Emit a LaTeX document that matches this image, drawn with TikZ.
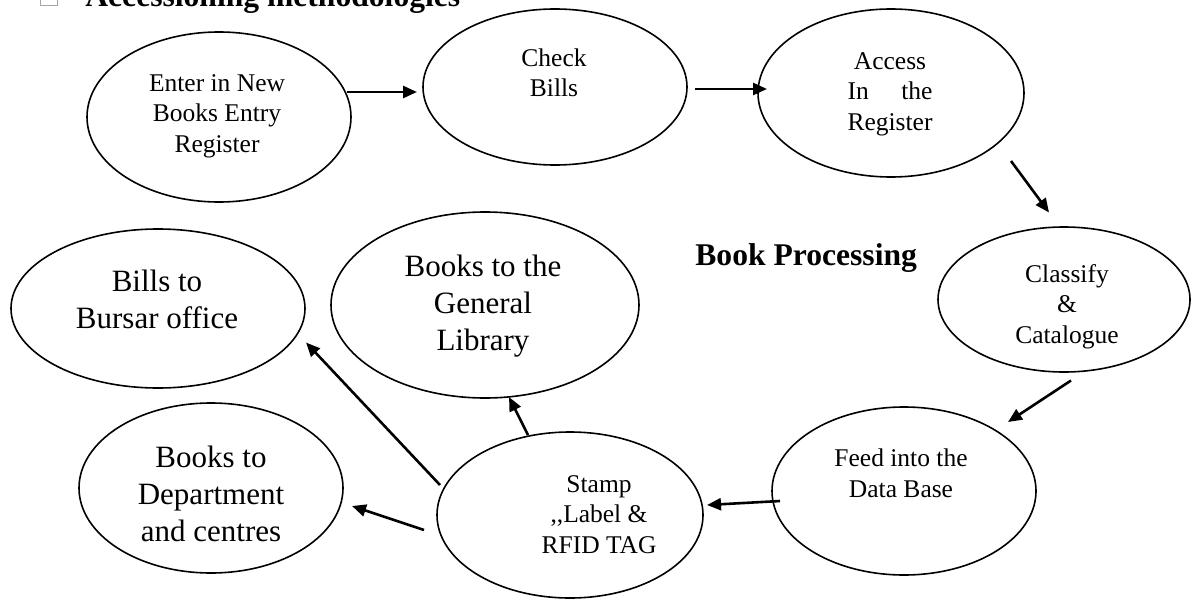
\documentclass[tikz,border=0pt]{standalone}
\usepackage{fontspec}
\setmainfont{Liberation Serif}
\usetikzlibrary{shapes.geometric,arrows.meta,calc}
\begin{document}
\begin{tikzpicture}[x=0.5pt,y=-0.5pt,
  ell/.style={draw,ellipse,line width=0.8pt,inner sep=0pt},
  small/.style={align=center,anchor=base,inner sep=0pt,font=\fontsize{12.75}{15.25}\selectfont},
  big/.style={align=center,anchor=base,inner sep=0pt,font=\fontsize{15.5}{18.4}\selectfont},
  heading/.style={anchor=base west,inner sep=0pt,font=\fontsize{15.8}{19}\selectfont\bfseries},
  arr/.style={line width=1.3pt,-{Triangle[length=7pt,width=6pt]}}]
\useasboundingbox (0,0) rectangle (1192,599);
\clip (0,0) rectangle (1192,599);

% title (cut by the top edge, as in the reference)
\draw[gray!70,line width=0.4pt] (40,-10) rectangle (57,5);
\node[heading] (title) at (85,7) {Accessioning methodologies};
\node[heading] (bp) at (695,265) {Book Processing};

% ellipses
\node[ell,minimum width=132pt,minimum height=85pt] (n1) at (219,117) {};
\node[ell,minimum width=132pt,minimum height=78pt] (n2) at (555,87) {};
\node[ell,minimum width=133pt,minimum height=84pt] (n3) at (891,93) {};
\node[ell,minimum width=126pt,minimum height=72.5pt] (n4) at (1064,299.5) {};
\node[ell,minimum width=132pt,minimum height=84pt] (n5) at (904,491) {};
\node[ell,minimum width=133pt,minimum height=83pt] (n6) at (570,515) {};
\node[ell,minimum width=154pt,minimum height=93pt] (n7) at (485,305) {};
\node[ell,minimum width=147pt,minimum height=79.5pt] (n8) at (158,308.5) {};
\node[ell,minimum width=132pt,minimum height=85pt] (n9) at (211,488) {};

% texts (positioned at the baseline of their last line)
\node[small] (t1) at (217,152) {Enter in New\\Books Entry\\Register};
\node[small] (t2) at (554,97) {Check\\Bills};
\node[small] (t3) at (890,130) {Access\\\makebox[3.33em][l]{In\hfill the}\\Register};
\node[small] (t4) at (1067,343) {Classify\\\&\\Catalogue};
\node[small] (t5) at (901,497) {Feed into the\\Data Base};
\node[small] (t6) at (599,553) {Stamp\\{,}{,}Label \&\\RFID TAG};
\node[big] (t7) at (483,350) {Books to the\\General\\Library};
\node[big] (t8) at (157,328) {Bills to\\Bursar office};
\node[big] (t9) at (211,541) {Books to\\Department\\and centres};

% connectors
\draw[arr] ($(n1)+(128,-25)$) -- ($(n2)+(-138,5)$);
\draw[arr] ($(n2)+(140,2)$) -- ($(n3)+(-124,-4)$);
\draw[arr] ($(n3)+(120,68)$) -- ($(n4)+(-15,-87)$);
\draw[arr] ($(n4)+(7,81)$) -- ($(n5)+(104,-69)$);
\draw[arr] ($(n5)+(-124,10)$) -- ($(n6)+(137,-10)$);
\draw[arr] ($(n6)+(-42,-80)$) -- ($(n7)+(24,92)$);
\draw[arr] ($(n6)+(-130,-30)$) -- ($(n8)+(148,34)$);
\draw[arr] ($(n6)+(-146,15)$) -- ($(n9)+(141,18)$);
\end{tikzpicture}
\end{document}
